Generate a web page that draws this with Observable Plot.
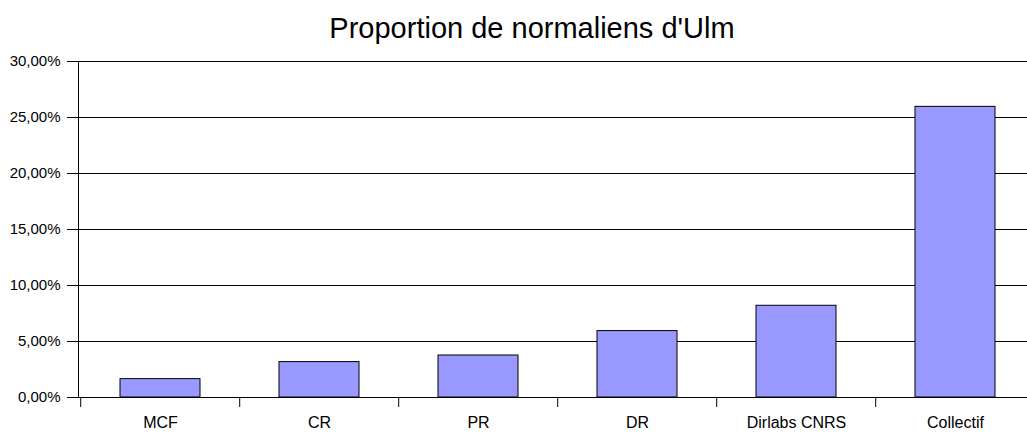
<!DOCTYPE html>
<html>
<head>
<meta charset="utf-8">
<script src="https://cdn.jsdelivr.net/npm/d3@7"></script>
<script src="https://cdn.jsdelivr.net/npm/@observablehq/plot@0.6"></script>
<style>
  html, body { margin: 0; padding: 0; background: #fff; }
  #chart svg { display: block; }
</style>
</head>
<body>
<div id="chart"></div>
<script>
const title = "Proportion de normaliens d'Ulm";
const categories = ["MCF", "CR", "PR", "DR", "Dirlabs CNRS", "Collectif"];
const values = [0.0164, 0.0316, 0.0375, 0.0593, 0.0819, 0.2595];
const yTicks = [0, 0.05, 0.10, 0.15, 0.20, 0.25, 0.30];

const data = categories.map((c, i) => ({category: c, value: values[i]}));
const fmt = d => (d * 100).toFixed(2).replace(".", ",") + "%";

const xRange = [78.5, 1036];
const step = (xRange[1] - xRange[0]) / categories.length;

const chart = Plot.plot({
  width: 1027,
  height: 433,
  marginTop: 61,
  marginBottom: 36,
  marginLeft: 78,
  marginRight: 0,
  style: {fontFamily: "'Liberation Sans', Arial, sans-serif", background: "#fff", color: "#000"},
  x: {domain: categories, range: xRange, paddingInner: 0.5, paddingOuter: 0.25},
  y: {domain: [0, 0.30]},
  marks: [
    Plot.gridY(yTicks, {stroke: "#000", strokeOpacity: 1}),
    Plot.barY(data, {x: "category", y: "value", fill: "#9999FF", stroke: "#000", strokeWidth: 1}),
    Plot.frame({anchor: "left", stroke: "#000"}),
    Plot.axisY(yTicks, {tickSize: 11, tickPadding: 7, tickFormat: fmt, fontSize: 15, label: null, stroke: "#000"}),
    Plot.axisX({tickSize: 0, tickPadding: 19, fontSize: 16, label: null}),
    Plot.axisX({tickSize: 10, tickFormat: () => "", dx: -step / 2, label: null, stroke: "#000"}),
    Plot.text([title], {frameAnchor: "top", dx: -21, dy: -33, lineAnchor: "middle", fontSize: 29, fill: "#000"})
  ]
});
document.getElementById("chart").appendChild(chart);
</script>
</body>
</html>
